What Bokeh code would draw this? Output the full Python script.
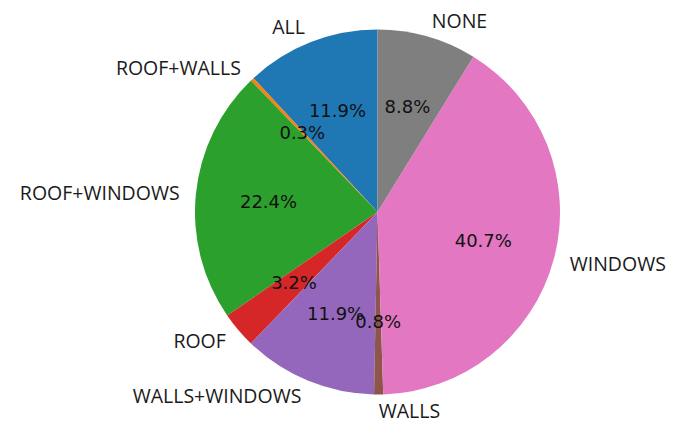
import math
from bokeh.plotting import figure
from bokeh.models import Range1d, ColumnDataSource
from bokeh.embed import file_html
from bokeh.resources import INLINE
from bokeh.core.properties import value

categories = ["ALL", "ROOF+WALLS", "ROOF+WINDOWS", "ROOF", "WALLS+WINDOWS", "WALLS", "WINDOWS", "NONE"]
percent = [11.9, 0.3, 22.4, 3.2, 11.9, 0.8, 40.7, 8.8]
colors = ["#1f77b4", "#ff7f0e", "#2ca02c", "#d62728", "#9467bd", "#8c564b", "#e377c2", "#7f7f7f"]

W, H = 684, 425
cx, cy, r = 377.0, 213.5, 182.5
label_dist, pct_dist = 1.09, 0.6

total = sum(percent)
starts, ends = [], []
a = 90.0
for v in percent:
    starts.append(math.radians(a))
    a += v / total * 360.0
    ends.append(math.radians(a))

mids = [(s + e) / 2 for s, e in zip(starts, ends)]
lx = [cx + label_dist * r * math.cos(m) for m in mids]
ly = [cy + label_dist * r * math.sin(m) for m in mids]
align = ["left" if math.cos(m) > 0 else "right" for m in mids]
px = [cx + pct_dist * r * math.cos(m) for m in mids]
py = [cy + pct_dist * r * math.sin(m) for m in mids]
ptxt = ["%.1f%%" % v for v in percent]

src = ColumnDataSource(dict(cat=categories, start=starts, end=ends, color=colors,
                            lx=lx, ly=ly, align=align, px=px, py=py, ptxt=ptxt))

p = figure(width=W, height=H, x_range=Range1d(0, W), y_range=Range1d(0, H),
           output_backend="svg", toolbar_location=None, min_border=0)
p.axis.visible = False
p.grid.visible = False
p.outline_line_color = None
p.background_fill_color = "white"

p.wedge(x=cx, y=cy, radius=r, start_angle="start", end_angle="end",
        fill_color="color", line_color=None, source=src)

p.text(x="lx", y="ly", text="cat", text_align="align", text_baseline="middle",
       text_line_height=1.0,
       text_font=value("Open Sans"), text_font_size="19.5px", text_color="#1a1a1a", source=src)
p.text(x="px", y="py", text="ptxt", text_align="center", text_baseline="middle",
       text_font=value("DejaVu Sans"), text_font_size="18px", text_color="#111111", source=src)

open("out.html", "w").write(file_html(p, INLINE))
